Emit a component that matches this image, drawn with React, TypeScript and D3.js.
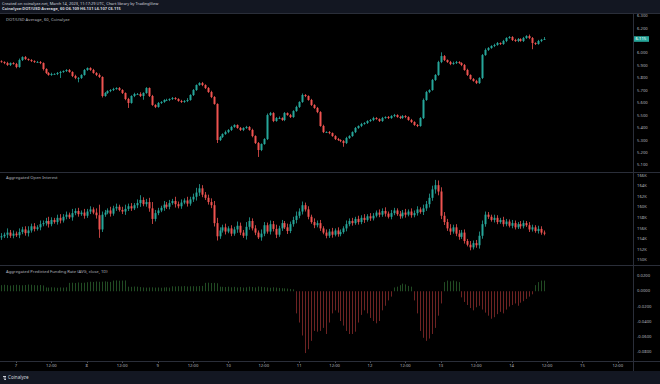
import { useEffect, useRef } from 'react';
import * as d3 from 'd3';

const W = 660;
const H = 384;

// hourly candles, first one is 6 Mar 2023 19:00 UTC
const firstTime = Date.UTC(2023, 2, 6, 19);
const priceFirstOpen = 5.936;
const priceClose = [
  5.930, 5.922, 5.906, 5.922, 5.914, 5.890, 5.946, 5.970, 5.954, 5.946,
  5.938, 5.930, 5.930, 5.922, 5.874, 5.842, 5.826, 5.834, 5.834, 5.842,
  5.850, 5.858, 5.866, 5.850, 5.818, 5.802, 5.802, 5.826, 5.866, 5.882,
  5.866, 5.842, 5.826, 5.810, 5.657, 5.681, 5.697, 5.705, 5.713, 5.721,
  5.705, 5.681, 5.633, 5.601, 5.657, 5.673, 5.673, 5.657, 5.681, 5.721,
  5.657, 5.585, 5.569, 5.601, 5.609, 5.625, 5.625, 5.633, 5.641, 5.633,
  5.617, 5.609, 5.617, 5.625, 5.665, 5.705, 5.745, 5.761, 5.745, 5.721,
  5.689, 5.649, 5.593, 5.303, 5.327, 5.351, 5.367, 5.384, 5.408, 5.424,
  5.400, 5.384, 5.400, 5.408, 5.384, 5.335, 5.279, 5.223, 5.271, 5.311,
  5.504, 5.520, 5.456, 5.480, 5.480, 5.464, 5.520, 5.504, 5.488, 5.536,
  5.569, 5.609, 5.665, 5.657, 5.625, 5.585, 5.561, 5.528, 5.416, 5.367,
  5.367, 5.359, 5.335, 5.311, 5.303, 5.295, 5.279, 5.319, 5.335, 5.367,
  5.400, 5.416, 5.432, 5.440, 5.456, 5.464, 5.480, 5.472, 5.456, 5.480,
  5.488, 5.480, 5.496, 5.504, 5.488, 5.480, 5.496, 5.488, 5.464, 5.448,
  5.424, 5.416, 5.480, 5.625, 5.689, 5.705, 5.786, 5.826, 5.930, 5.978,
  5.946, 5.930, 5.914, 5.922, 5.930, 5.922, 5.906, 5.866, 5.826, 5.794,
  5.778, 5.761, 5.802, 5.986, 6.027, 6.043, 6.059, 6.067, 6.083, 6.075,
  6.099, 6.123, 6.131, 6.107, 6.099, 6.115, 6.099, 6.123, 6.139, 6.123,
  6.083, 6.075, 6.099, 6.109, 6.115,
];
// wick lengths above / below the body, in thousandths
const priceUpWick = [
  8, 6, 10, 5, 7, 9, 12, 6, 8, 5,
  7, 6, 9, 8, 5, 6, 7, 10, 6, 8,
  9, 5, 7, 8, 6, 10, 7, 6, 8, 5,
  6, 9, 7, 12, 5, 8, 6, 7, 10, 6,
  8, 7, 5, 9, 6, 10, 8, 14, 6, 7,
  5, 9, 6, 8, 7, 6, 10, 5, 8, 7,
  6, 9, 7, 15, 6, 8, 5, 7, 9, 6,
  8, 10, 7, 5, 8, 6, 12, 7, 9, 6,
  5, 8, 6, 9, 7, 10, 6, 8, 5, 7,
  12, 9, 7, 8, 12, 6, 8, 5, 9, 7,
  10, 6, 12, 7, 5, 9, 6, 8, 7, 10,
  6, 8, 5, 7, 9, 6, 8, 10, 7, 6,
  8, 5, 9, 7, 6, 8, 10, 7, 5, 9,
  6, 8, 7, 9, 6, 10, 8, 7, 6, 9,
  6, 8, 7, 12, 9, 6, 8, 7, 10, 30,
  8, 5, 9, 12, 9, 7, 6, 8, 10, 5,
  7, 9, 6, 8, 12, 7, 6, 10, 8, 5,
  9, 6, 8, 7, 10, 8, 6, 9, 7, 12,
  8, 6, 9, 7, 16,
];
const priceDownWick = [
  6, 9, 7, 8, 5, 10, 6, 8, 7, 6,
  8, 7, 6, 9, 12, 8, 6, 7, 5, 9,
  40, 7, 8, 6, 9, 10, 35, 8, 6, 7,
  7, 6, 9, 8, 12, 6, 7, 9, 8, 6,
  7, 8, 10, 40, 6, 9, 7, 8, 30, 6,
  8, 7, 9, 6, 8, 7, 6, 9, 8, 7,
  6, 8, 7, 9, 6, 8, 7, 6, 9, 8,
  7, 9, 6, 24, 8, 7, 6, 9, 8, 7,
  6, 8, 9, 7, 6, 10, 8, 56, 9, 6,
  8, 7, 9, 6, 8, 7, 9, 6, 8, 7,
  6, 8, 7, 9, 6, 8, 7, 9, 6, 8,
  7, 9, 6, 8, 7, 9, 30, 8, 7, 6,
  8, 7, 9, 6, 8, 7, 9, 6, 8, 7,
  6, 8, 7, 9, 6, 8, 7, 9, 6, 8,
  7, 9, 6, 8, 7, 9, 6, 8, 7, 9,
  8, 7, 9, 6, 8, 7, 9, 6, 8, 7,
  6, 8, 7, 9, 6, 8, 7, 9, 6, 8,
  7, 9, 6, 8, 7, 9, 6, 8, 7, 9,
  50, 8, 6, 9, 2,
];

// aggregated open interest, thousands
const oiFirstOpen = 154.3;
const oiClose = [
  154.5, 154.8, 155.2, 154.6, 155.0, 154.7, 155.3, 155.8, 155.1, 155.6,
  156.4, 155.9, 156.2, 156.8, 157.0, 157.4, 156.8, 157.6, 157.2, 158.0,
  157.5, 158.2, 158.6, 158.1, 158.9, 159.3, 158.7, 159.0, 158.4, 159.2,
  159.6, 159.0, 158.5, 155.8, 158.6, 159.0, 159.4, 158.8, 159.8, 160.1,
  159.5, 159.2, 159.7, 160.2, 159.8, 160.4, 160.8, 161.4, 160.6, 161.0,
  159.8, 157.8, 158.9, 159.4, 159.9, 160.5, 160.1, 160.8, 161.2, 160.6,
  160.2, 160.9, 161.3, 160.7, 161.5, 162.0, 162.8, 163.6, 162.4, 161.8,
  161.0, 160.4, 157.0, 154.5, 155.6, 156.2, 155.4, 156.0, 155.0, 155.8,
  156.5, 155.2, 154.6, 156.3, 157.4, 156.0, 155.2, 154.3, 155.0, 156.6,
  155.4, 156.8, 155.9, 154.8, 156.0, 157.0, 156.2, 155.5, 156.8, 157.6,
  158.4, 159.2, 160.4, 159.6, 158.2, 157.2, 156.6, 157.0, 156.0, 155.2,
  154.6, 155.4, 154.8, 155.6, 154.9, 155.3, 156.0, 156.8, 157.4, 157.0,
  157.8, 157.2, 158.0, 157.6, 158.3, 157.9, 158.4, 159.0, 158.6, 159.3,
  158.8, 158.2, 158.9, 159.4, 158.7, 158.3, 159.0, 158.6, 159.2, 158.5,
  158.9, 159.6, 159.1, 159.8, 160.6, 161.8, 163.4, 164.2, 163.0, 158.4,
  157.2, 156.0, 155.4, 156.2, 155.0, 154.4, 155.2, 153.6, 152.9, 152.4,
  153.2, 152.8, 154.6, 156.8, 158.6, 158.2, 157.6, 158.0, 157.2, 157.6,
  156.8, 157.3, 156.5, 157.0, 156.2, 156.8, 156.4, 157.0, 156.6, 155.8,
  156.2, 155.5, 155.9, 155.2, 155.0,
];
const oiWick = [
  0.6, 0.4, 0.8, 0.5, 0.6, 0.4, 0.7, 0.5, 0.6, 0.8,
  0.5, 0.6, 0.4, 0.7, 0.5, 0.6, 0.8, 0.5, 0.4, 0.6,
  0.7, 0.5, 0.6, 0.4, 0.8, 0.5, 0.6, 0.4, 0.7, 0.5,
  0.6, 0.4, 0.8, 2.0, 0.6, 0.5, 0.4, 0.7, 0.5, 0.6,
  0.4, 0.6, 0.8, 0.5, 0.6, 0.4, 0.7, 0.9, 0.5, 0.6,
  0.8, 1.2, 0.6, 0.5, 0.4, 0.7, 0.5, 0.6, 0.4, 0.8,
  0.5, 0.6, 0.4, 0.7, 0.5, 0.6, 0.9, 0.8, 0.6, 0.5,
  0.6, 0.7, 0.8, 1.0, 0.6, 0.5, 0.7, 0.4, 0.6, 0.5,
  0.8, 0.6, 0.5, 0.9, 0.7, 0.5, 0.6, 0.4, 0.8, 0.6,
  0.5, 0.7, 0.6, 0.8, 0.5, 0.6, 0.4, 0.7, 0.5, 0.6,
  0.8, 0.6, 0.7, 0.5, 0.6, 0.4, 0.7, 0.5, 0.6, 0.4,
  0.6, 0.5, 0.7, 0.4, 0.6, 0.5, 0.4, 0.7, 0.5, 0.6,
  0.4, 0.6, 0.5, 0.7, 0.4, 0.6, 0.5, 0.4, 0.6, 0.5,
  0.7, 0.4, 0.6, 0.5, 0.4, 0.6, 0.5, 0.7, 0.4, 0.6,
  0.5, 0.6, 0.4, 0.7, 0.6, 0.8, 0.7, 1.0, 0.9, 0.8,
  0.7, 0.6, 0.8, 0.5, 0.6, 0.7, 0.5, 0.6, 0.4, 0.7,
  0.5, 0.6, 0.8, 0.7, 0.6, 0.5, 0.4, 0.6, 0.5, 0.4,
  0.6, 0.5, 0.4, 0.6, 0.5, 0.4, 0.6, 0.5, 0.4, 0.6,
  0.5, 0.4, 0.6, 0.5, 0.4,
];

// aggregated predicted funding rate, one bar per hour
const funding = [
  0.0080, 0.0085, 0.0080, 0.0075, 0.0080, 0.0085, 0.0080, 0.0078, 0.0082, 0.0088,
  0.0085, 0.0080, 0.0078, 0.0082, 0.0076, 0.0050, 0.0048, 0.0052, 0.0050, 0.0046,
  0.0050, 0.0048, 0.0052, 0.0110, 0.0112, 0.0108, 0.0115, 0.0110, 0.0112, 0.0118,
  0.0125, 0.0122, 0.0128, 0.0124, 0.0126, 0.0130, 0.0125, 0.0122, 0.0140, 0.0142,
  0.0138, 0.0140, 0.0142, 0.0060, 0.0058, 0.0062, 0.0060, 0.0055, 0.0050, 0.0048,
  0.0050, 0.0052, 0.0048, 0.0050, 0.0046, 0.0050, 0.0052, 0.0048, 0.0065, 0.0062,
  0.0066, 0.0064, 0.0068, 0.0062, 0.0065, 0.0066, 0.0064, 0.0068, 0.0070, 0.0110,
  0.0112, 0.0108, 0.0110, 0.0105, 0.0060, 0.0058, 0.0055, 0.0060, 0.0052, 0.0058,
  0.0050, 0.0055, 0.0048, 0.0052, 0.0060, 0.0056, 0.0050, 0.0062, 0.0058, 0.0054,
  0.0050, 0.0046, 0.0052, 0.0048, 0.0044, 0.0040, 0.0038, 0.0035, 0.0030, 0.0025,
  -0.029, -0.041, -0.058, -0.081, -0.076, -0.065, -0.052, -0.053, -0.052, -0.048,
  -0.056, -0.041, -0.029, -0.025, -0.028, -0.039, -0.045, -0.052, -0.056, -0.056,
  -0.053, -0.041, -0.031, -0.025, -0.029, -0.035, -0.039, -0.042, -0.039, -0.025,
  -0.019, -0.012, -0.007, 0.0050, 0.0060, 0.0080, 0.0100, 0.0090, 0.0070, 0.0060,
  -0.012, -0.029, -0.052, -0.061, -0.065, -0.062, -0.056, -0.048, -0.032, -0.016,
  0.0120, 0.0140, 0.0130, 0.0140, 0.0130, 0.0120, -0.008, -0.014, -0.018, -0.022,
  -0.025, -0.021, -0.019, -0.024, -0.028, -0.032, -0.036, -0.034, -0.030, -0.027,
  -0.029, -0.024, -0.020, -0.018, -0.016, -0.019, -0.015, -0.013, -0.010, -0.007,
  -0.004, 0.0080, 0.0120, 0.0140, 0.0140,
];

const priceTicks = [6.3, 6.2, 6.0, 5.9, 5.8, 5.7, 5.6, 5.5, 5.4, 5.3, 5.2, 5.1];
const oiTicks = [166, 164, 162, 160, 158, 156, 154, 152, 150];
const fundingTicks = [0.02, 0, -0.02, -0.04, -0.06, -0.08];

const UP = '#26a69a';
const DOWN = '#ef5350';
const PANEL_BG = '#000000';
const BAR_BG = '#131722';
const LINE = '#2a2e39';
const TEXT = '#b2b5be';
const FONT = '"Noto Sans", "Open Sans", sans-serif';

export default function App() {
  const svgRef = useRef<SVGSVGElement>(null);

  useEffect(() => {
    if (!svgRef.current) return;
    const svg = d3.select(svgRef.current);
    svg.selectAll('*').remove();

    const times = priceClose.map((_, i) => new Date(firstTime + i * 3600e3));

    const x = d3.scaleUtc()
      .domain([new Date(Date.UTC(2023, 2, 7)), new Date(Date.UTC(2023, 2, 15))])
      .range([16, 582.4]);
    const yPrice = d3.scaleLinear().domain([5.1, 6.3]).range([165.3, 16]);
    const yOi = d3.scaleLinear().domain([150, 166]).range([260, 175.7]);
    const yFund = d3.scaleLinear().domain([-0.08, 0.02]).range([352.3, 276]);

    // backgrounds
    svg.append('rect').attr('width', W).attr('height', H).attr('fill', PANEL_BG);
    svg.append('rect').attr('width', W).attr('height', 13).attr('fill', BAR_BG);
    svg.append('rect').attr('y', 371).attr('width', W).attr('height', H - 371).attr('fill', BAR_BG);

    // pane borders
    [13.5, 172.5, 265.5, 361.5].forEach(yy => {
      svg.append('line').attr('x1', 0).attr('x2', W).attr('y1', yy).attr('y2', yy)
        .attr('stroke', LINE).attr('stroke-width', 1);
    });
    svg.append('line').attr('x1', 633.5).attr('x2', 633.5).attr('y1', 13).attr('y2', 371)
      .attr('stroke', LINE);

    const txt = (xx: number, yy: number, s: string, opts: any = {}) =>
      svg.append('text')
        .attr('x', xx).attr('y', yy)
        .attr('font-family', FONT)
        .attr('font-size', opts.size ?? 4.2)
        .attr('font-weight', opts.weight ?? 'normal')
        .attr('text-anchor', opts.anchor ?? 'start')
        .attr('dominant-baseline', opts.baseline ?? 'middle')
        .attr('fill', opts.fill ?? TEXT)
        .text(s);

    // header
    txt(2, 3.6, 'Created on coinalyze.net, March 14, 2023, 11:17:29 UTC, Chart library by TradingView', { fill: '#d1d4dc', size: 3.95 });
    txt(2, 9.2, 'Coinalyze:DOT/USD Average, 60 O6.109 H6.131 L6.107 C6.115', { fill: '#d1d4dc', weight: 'bold', size: 4.0 });

    // pane titles
    txt(6, 19.6, 'DOT/USD Average, 60, Coinalyze');
    txt(6, 177.4, 'Aggregated Open Interest');
    txt(6, 272, 'Aggregated Predicted Funding Rate (AVG, close, 1D)');

    // candles
    const drawCandles = (opens: number[], closes: number[], highs: number[], lows: number[], y: d3.ScaleLinear<number, number>) => {
      const g = svg.append('g');
      closes.forEach((c, i) => {
        const o = opens[i];
        const cx = Math.round(x(times[i])) + 0.5;
        const col = c >= o ? UP : DOWN;
        g.append('line')
          .attr('x1', cx).attr('x2', cx)
          .attr('y1', y(highs[i])).attr('y2', y(lows[i]))
          .attr('stroke', col).attr('stroke-width', 0.8);
        const top = y(Math.max(o, c));
        const h = Math.max(0.8, Math.abs(y(o) - y(c)));
        g.append('rect')
          .attr('x', cx - 1).attr('width', 2)
          .attr('y', top).attr('height', h)
          .attr('fill', col);
      });
    };

    const priceOpen = priceClose.map((_, i) => (i === 0 ? priceFirstOpen : priceClose[i - 1]));
    const priceHigh = priceClose.map((c, i) => Math.max(c, priceOpen[i]) + priceUpWick[i] / 1000);
    const priceLow = priceClose.map((c, i) => Math.min(c, priceOpen[i]) - priceDownWick[i] / 1000);
    drawCandles(priceOpen, priceClose, priceHigh, priceLow, yPrice);

    const oiOpen = oiClose.map((_, i) => (i === 0 ? oiFirstOpen : oiClose[i - 1]));
    const oiHigh = oiClose.map((c, i) => Math.max(c, oiOpen[i]) + oiWick[i]);
    const oiLow = oiClose.map((c, i) => Math.min(c, oiOpen[i]) - oiWick[i] * 0.8);
    drawCandles(oiOpen, oiClose, oiHigh, oiLow, yOi);

    // funding histogram
    const gf = svg.append('g');
    funding.forEach((v, i) => {
      const cx = Math.round(x(times[i])) + 0.5;
      gf.append('line')
        .attr('x1', cx).attr('x2', cx)
        .attr('y1', yFund(0)).attr('y2', yFund(v))
        .attr('stroke', v >= 0 ? '#2a5e2c' : '#8a2c2c')
        .attr('stroke-width', 0.8);
    });

    // right scales
    priceTicks.forEach(v => txt(637, yPrice(v), v.toFixed(3)));
    oiTicks.forEach(v => txt(637, yOi(v), `${v}K`));
    fundingTicks.forEach(v => txt(637, yFund(v), v.toFixed(4)));

    // last price marker
    const last = priceClose[priceClose.length - 1];
    svg.append('rect')
      .attr('x', 634).attr('y', yPrice(last) - 2.8)
      .attr('width', 15).attr('height', 5.6)
      .attr('fill', UP);
    txt(635.5, yPrice(last), last.toFixed(3), { fill: '#ffffff' });

    // time axis
    const ticks = d3.utcHour.range(new Date(Date.UTC(2023, 2, 7)), new Date(Date.UTC(2023, 2, 16)), 12);
    ticks.forEach(t => {
      const xx = x(t);
      if (xx > 630) return;
      const label = t.getUTCHours() === 0 ? String(t.getUTCDate()) : '12:00';
      svg.append('line').attr('x1', Math.round(xx) + 0.5).attr('x2', Math.round(xx) + 0.5)
        .attr('y1', 361.5).attr('y2', 363).attr('stroke', '#4a4e59');
      txt(xx, 366, label, { anchor: 'middle' });
    });

    // footer logo
    const logo = svg.append('g').attr('transform', 'translate(3,376)');
    [0, 1.5, 3].forEach((dy, k) => {
      logo.append('rect').attr('x', k * 0.6).attr('y', dy).attr('width', 3 - k * 0.6).attr('height', 1)
        .attr('fill', '#c8ccd6');
    });
    txt(8, 378.2, 'Coinalyze', { fill: '#d1d4dc', size: 4.6 });
  }, []);

  return (
    <div style={{ position: 'fixed', left: 0, top: 0 }}>
      <svg ref={svgRef} width={W} height={H} style={{ display: 'block' }} />
    </div>
  );
}
